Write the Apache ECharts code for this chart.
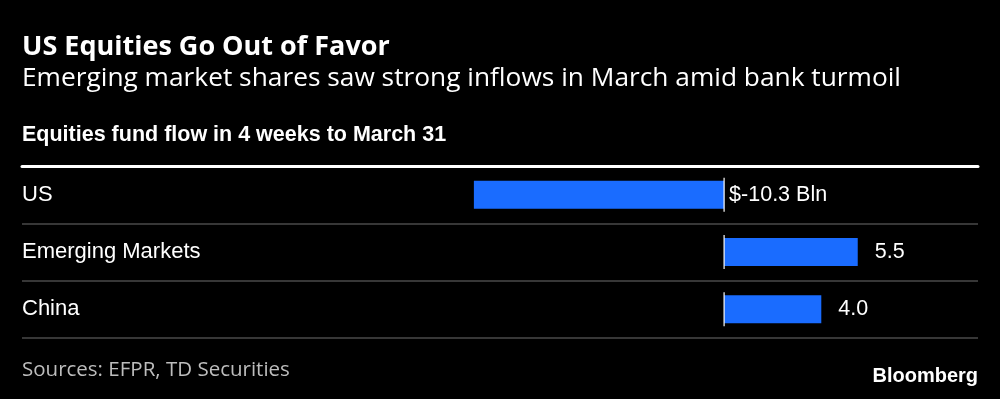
<!DOCTYPE html>
<html>
	<head>
		<meta charset="utf-8">
		<title>US Equities Go Out of Favor</title>
		<script src="https://cdn.jsdelivr.net/npm/echarts@6/dist/echarts.min.js"></script>
		<style>
			html, body { margin: 0; padding: 0; background: #000; }
			#chart { width: 1000px; height: 399px; }
		</style>
	</head>
	<body>
		<div id="chart"></div>
		<script>
			// data, $ billion
			var categories = ['US', 'Emerging Markets', 'China'];
			var flows = [-10.3, 5.5, 4.0];
			var valueLabels = ['$-10.3 Bln', '5.5', '4.0'];

			var myChart = echarts.init(document.getElementById('chart'));

			var barData = flows.map(function (v, i) {
				return {
					value: v,
					label: { distance: v < 0 ? 5 : 17 }
				};
			});

			var option = {
				backgroundColor: '#000',
				animation: false,
				title: [
					{
						text: 'US Equities Go Out of Favor',
						left: 17, top: 29,
						textStyle: { color: '#fff', fontFamily: 'Open Sans', fontWeight: 'bold', fontSize: 27 }
					},
					{
						text: 'Emerging market shares saw strong inflows in March amid bank turmoil',
						left: 17, top: 61,
						textStyle: { color: '#fff', fontFamily: 'Open Sans', fontWeight: 'normal', fontSize: 26.3 }
					},
					{
						text: 'Equities fund flow in 4 weeks to March 31',
						left: 17, top: 119,
						textStyle: { color: '#fff', fontFamily: 'Liberation Sans', fontWeight: 'bold', fontSize: 21.5 }
					},
					{
						text: 'Sources: EFPR, TD Securities',
						left: 17, top: 355,
						textStyle: { color: '#bdbdbd', fontFamily: 'Open Sans', fontWeight: 'normal', fontSize: 20.5 }
					},
					{
						text: 'Bloomberg',
						right: 17, top: 361,
						textStyle: { color: '#fff', fontFamily: 'Liberation Sans', fontWeight: 'bold', fontSize: 20 }
					}
				],
				grid: { left: 22, right: 22, top: 166, bottom: 61 },
				xAxis: {
					type: 'value',
					position: 'top',
					min: -28.9,
					max: 10.45,
					axisLine: { show: true, lineStyle: { color: '#fff', width: 3 } },
					axisTick: { show: false },
					axisLabel: { show: false },
					splitLine: { show: false }
				},
				yAxis: {
					type: 'category',
					inverse: true,
					data: categories,
					axisLine: { show: false },
					axisTick: { show: false },
					splitLine: { show: true, lineStyle: { color: '#4a4a4a', width: 1.5 } },
					axisLabel: {
						inside: true,
						margin: 0,
						color: '#fff',
						fontFamily: 'Liberation Sans',
						fontSize: 22
					}
				},
				series: [
					{
						type: 'bar',
						data: barData,
						barWidth: 28,
						itemStyle: { color: '#1a6cff' },
						label: {
							show: true,
							position: 'right',
							color: '#fff',
							fontFamily: 'Liberation Sans',
							fontSize: 21.5,
							formatter: function (p) { return valueLabels[p.dataIndex]; }
						}
					},
					{
						// zero line tick on each row
						type: 'scatter',
						data: flows.map(function () { return 0; }),
						symbol: 'rect',
						symbolSize: [1.5, 34],
						itemStyle: { color: '#fff' },
						z: 5,
						silent: true
					}
				]
			};
			myChart.setOption(option);
		</script>
	</body>
</html>
